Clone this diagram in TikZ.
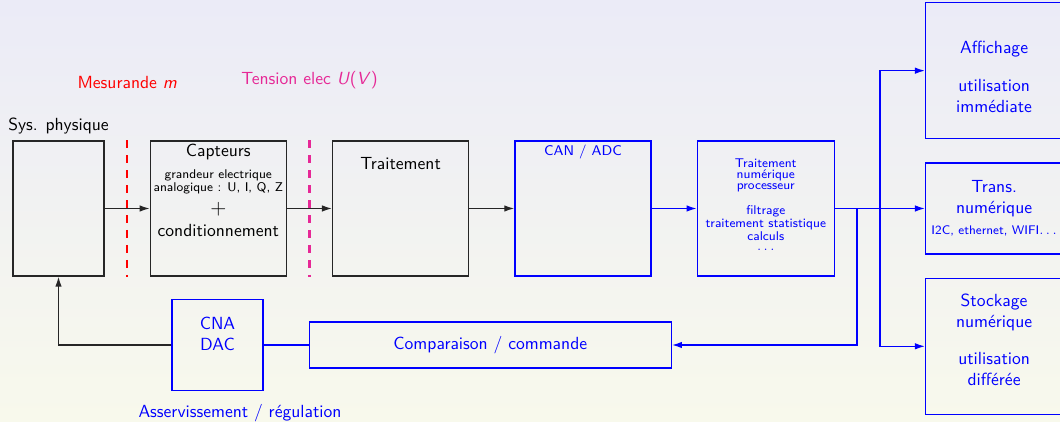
\documentclass[tikz,border=0pt]{standalone}
\usetikzlibrary{calc}
\usetikzlibrary{arrows.meta}
\usetikzlibrary{positioning}
\renewcommand{\familydefault}{\sfdefault}

\definecolor{fondhaut}{RGB}{235,235,247}
\definecolor{fondbas}{RGB}{248,249,236}
\definecolor{tensioncol}{RGB}{230,40,150}

\tikzset{
  bloc/.style={draw=black!85, minimum width=2.72cm, minimum height=2.7cm, inner sep=0pt},
  blocnum/.style={bloc, draw=blue, text=blue},
  txt/.style={inner sep=0pt, align=center},
  petit/.style={font=\fontsize{7.2}{6.1}\selectfont},
  coupure/.style={line width=1.3pt, dash pattern=on 4.5pt off 4pt},
}

\begin{document}
\begin{tikzpicture}[line width=.75pt, >={Latex[length=2mm,width=1.3mm]}]
\shade[top color=fondhaut, bottom color=fondbas] (0,0) rectangle (21.2,8.44);
\useasboundingbox (0,0) rectangle (21.2,8.44);

\node[bloc, minimum width=1.82cm] (sys) at (1.17,4.27) {};
\node[bloc, right=0.9cm of sys] (capt) {};
\node[bloc, right=0.9cm of capt] (trait) {};
\node[blocnum, right=0.9cm of trait] (can) {};
\node[blocnum, right=0.9cm of can, minimum width=2.74cm] (tn) {};

\node[blocnum, right=1.8cm of tn, minimum width=2.74cm, minimum height=1.82cm] (trans) {};
\node[blocnum, above=0.46cm of trans, minimum width=2.74cm, minimum height=2.72cm] (aff) {};
\node[blocnum, below=0.46cm of trans, minimum width=2.74cm, minimum height=2.72cm] (stock) {};

\node[blocnum, minimum width=1.82cm, minimum height=1.82cm] (cna) at (4.35,1.54) {};
\node[blocnum, right=0.9cm of cna, minimum width=7.24cm, minimum height=0.92cm] (comp) {Comparaison / commande};

\node[txt, anchor=base] (sysT) at ([yshift=0.2cm]sys.north) {Sys. physique};
\node[txt, anchor=base] (captA) at ([yshift=-0.32cm]capt.north) {Capteurs};
\node[txt, petit, anchor=north] (captB) at ([yshift=-0.57cm]capt.north) {grandeur electrique\\analogique : U, I, Q, Z};
\node[txt, anchor=base, font=\large] (captC) at ([yshift=-1.48cm]capt.north) {+};
\node[txt, anchor=base] (captD) at ([yshift=-1.92cm]capt.north) {conditionnement};
\node[txt, anchor=base] (traitT) at ([yshift=-0.58cm]trait.north) {Traitement};
\node[txt, blue, anchor=base, font=\footnotesize] (canT) at ([yshift=-0.3cm]can.north) {CAN / ADC};
\node[txt, blue, petit, anchor=north] (tnT) at ([yshift=-0.36cm]tn.north) {Traitement\\numérique\\processeur\\[7pt]filtrage\\traitement statistique\\calculs\\$\ldots$};

\node[txt, blue, anchor=north] (affT) at ([yshift=-0.76cm]aff.north) {Affichage\\[9.6pt]utilisation\\immédiate};
\node[txt, blue, anchor=north] (transT) at ([yshift=-0.34cm]trans.north) {Trans.\\numérique};
\node[txt, blue, anchor=base, font=\fontsize{7.1}{8}\selectfont] (transI) at ([yshift=-1.44cm]trans.north) {I2C, ethernet, WIFI$\ldots$};
\node[txt, blue, anchor=north] (stockT) at ([yshift=-0.32cm]stock.north) {Stockage\\numérique\\[9pt]utilisation\\différée};
\node[txt, blue, anchor=north] (cnaT) at ([yshift=-0.36cm]cna.north) {CNA\\DAC};
\node[txt, blue, anchor=base] (asservT) at ([xshift=0.45cm,yshift=-0.52cm]cna.south) {Asservissement / régulation};

\coordinate (mesH) at ($(sys.north east)!0.5!(capt.north west)$);
\coordinate (mesB) at ($(sys.south east)!0.5!(capt.south west)$);
\coordinate (tenH) at ($(capt.north east)!0.5!(trait.north west)$);
\coordinate (tenB) at ($(capt.south east)!0.5!(trait.south west)$);
\draw[red, coupure] (mesH) -- (mesB);
\draw[tensioncol, coupure] (tenH) -- (tenB);
\node[txt, red, anchor=base] (mesT) at ([yshift=1.04cm]mesH) {Mesurande \textsl{m}};
\node[txt, tensioncol, anchor=base] (tenT) at ([yshift=1.12cm]tenH) {Tension elec \textsl{U}(\textsl{V})};

\draw[->, black!85] (sys.east) -- (capt.west);
\draw[->, black!85] (capt.east) -- (trait.west);
\draw[->, black!85] (trait.east) -- (can.west);
\draw[->, blue] (can.east) -- (tn.west);
\draw[->, blue] (tn.east) -- (trans.west);

\coordinate (j1) at ($(tn.east)+(0.9,0)$);
\coordinate (j2) at ($(tn.east)+(0.44,0)$);
\draw[->, blue] (j1) |- (aff.west);
\draw[->, blue] (j1) |- (stock.west);
\draw[->, blue] (j2) |- (comp.east);
\draw[blue] (cna.east) -- (comp.west);
\draw[->, black!85] (cna.west) -| (sys.south);

\end{tikzpicture}
\end{document}
